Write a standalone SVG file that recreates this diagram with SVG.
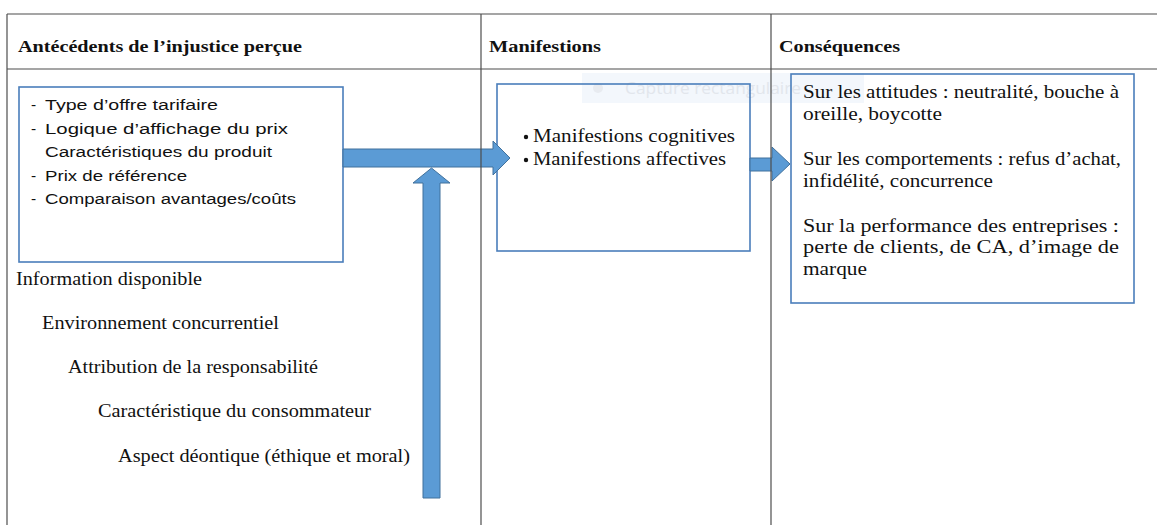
<svg xmlns="http://www.w3.org/2000/svg" width="1157" height="525" viewBox="0 0 1157 525">
  <style>
    .grid { stroke: #4d4d4d; stroke-width: 1.2; fill: none; }
    .box { fill: none; stroke: #4a7ebb; stroke-width: 1.6; }
    .arrow { fill: #5b9bd5; stroke: #41719c; stroke-width: 1; }
    .hdr { font-family: "Liberation Serif", "Times New Roman", serif; font-weight: bold; font-size: 17.5px; fill: #111; }
    .serif { font-family: "Liberation Serif", "Times New Roman", serif; font-size: 18px; fill: #111; }
    .sans { font-family: "Liberation Sans", Arial, sans-serif; font-size: 15.5px; fill: #111; }
    .ghost { font-family: "Open Sans", "Liberation Sans", sans-serif; font-size: 16px; fill: #e2e6ec; }
  </style>

  <rect width="1157" height="525" fill="#ffffff"/>

  <!-- faint screen-capture tooltip sitting under the drawing -->
  <g id="tooltip">
    <rect x="582" y="73" width="282" height="30" fill="#f3f7fc"/>
    <circle cx="598" cy="88" r="5" fill="#e8ebf0"/>
    <text class="ghost" x="625" y="94" textLength="176" lengthAdjust="spacingAndGlyphs">Capture rectangulaire</text>
  </g>

  <!-- column headers -->
  <g id="headers">
    <text class="hdr" x="18" y="52" textLength="284" lengthAdjust="spacingAndGlyphs">Antécédents de l’injustice perçue</text>
    <text class="hdr" x="489" y="52" textLength="112" lengthAdjust="spacingAndGlyphs">Manifestions</text>
    <text class="hdr" x="779" y="52" textLength="121" lengthAdjust="spacingAndGlyphs">Conséquences</text>
  </g>

  <!-- antecedents box -->
  <g id="antecedents">
    <rect class="box" x="19" y="87" width="324" height="175"/>
    <g class="sans">
      <text x="31" y="110">-</text>
      <text x="45" y="110" textLength="173" lengthAdjust="spacingAndGlyphs">Type d’offre tarifaire</text>
      <text x="31" y="134">-</text>
      <text x="45" y="134" textLength="243" lengthAdjust="spacingAndGlyphs">Logique d’affichage du prix</text>
      <text x="45" y="157" textLength="227" lengthAdjust="spacingAndGlyphs">Caractéristiques du produit</text>
      <text x="31" y="181">-</text>
      <text x="45" y="181" textLength="142" lengthAdjust="spacingAndGlyphs">Prix de référence</text>
      <text x="31" y="204">-</text>
      <text x="45" y="204" textLength="251" lengthAdjust="spacingAndGlyphs">Comparaison avantages/coûts</text>
    </g>
  </g>

  <!-- other antecedent factors -->
  <g id="factors" class="serif">
    <text x="16" y="285" textLength="186" lengthAdjust="spacingAndGlyphs">Information disponible</text>
    <text x="42" y="329" textLength="237" lengthAdjust="spacingAndGlyphs">Environnement concurrentiel</text>
    <text x="68" y="373" textLength="250" lengthAdjust="spacingAndGlyphs">Attribution de la responsabilité</text>
    <text x="98" y="417" textLength="273" lengthAdjust="spacingAndGlyphs">Caractéristique du consommateur</text>
    <text x="118" y="462" textLength="292" lengthAdjust="spacingAndGlyphs">Aspect déontique (éthique et moral)</text>
  </g>

  <!-- manifestations box -->
  <g id="manifestations">
    <rect class="box" x="497" y="84" width="253" height="167"/>
    <g class="serif">
      <circle cx="526" cy="137" r="2.2" fill="#111"/>
      <text x="533" y="142" textLength="202" lengthAdjust="spacingAndGlyphs">Manifestions  cognitives</text>
      <circle cx="526" cy="160" r="2.2" fill="#111"/>
      <text x="533" y="165" textLength="193" lengthAdjust="spacingAndGlyphs">Manifestions affectives</text>
    </g>
  </g>

  <!-- consequences box -->
  <g id="consequences">
    <rect class="box" x="791" y="74" width="343" height="229"/>
    <g class="serif">
      <text x="803" y="98" textLength="316" lengthAdjust="spacingAndGlyphs">Sur les attitudes : neutralité, bouche à</text>
      <text x="803" y="120" textLength="139" lengthAdjust="spacingAndGlyphs">oreille, boycotte</text>
      <text x="803" y="165" textLength="318" lengthAdjust="spacingAndGlyphs">Sur les comportements : refus d’achat,</text>
      <text x="803" y="187" textLength="190" lengthAdjust="spacingAndGlyphs">infidélité, concurrence</text>
      <text x="803" y="232" textLength="316" lengthAdjust="spacingAndGlyphs">Sur la performance des entreprises :</text>
      <text x="803" y="253" textLength="316" lengthAdjust="spacingAndGlyphs">perte de clients, de CA, d’image de</text>
      <text x="803" y="275" textLength="64" lengthAdjust="spacingAndGlyphs">marque</text>
    </g>
  </g>

  <!-- block arrows -->
  <g id="connectors">
    <path class="arrow" d="M343,149 L493,149 L493,141 L510,158 L493,175 L493,167 L343,167 Z"/>
    <path class="arrow" d="M423,498 L423,183 L413,183 L431.5,168 L450,183 L440,183 L440,498 Z"/>
    <path class="arrow" d="M750,158 L772,158 L772,147 L790,164 L772,181 L772,171 L750,171 Z"/>
  </g>

  <!-- table rules -->
  <g id="table" class="grid">
    <line x1="7" y1="14" x2="1157" y2="14"/>
    <line x1="7" y1="69" x2="1157" y2="69"/>
    <line x1="7" y1="14" x2="7" y2="525"/>
    <line x1="481" y1="14" x2="481" y2="525"/>
    <line x1="771" y1="14" x2="771" y2="525"/>
  </g>
</svg>
